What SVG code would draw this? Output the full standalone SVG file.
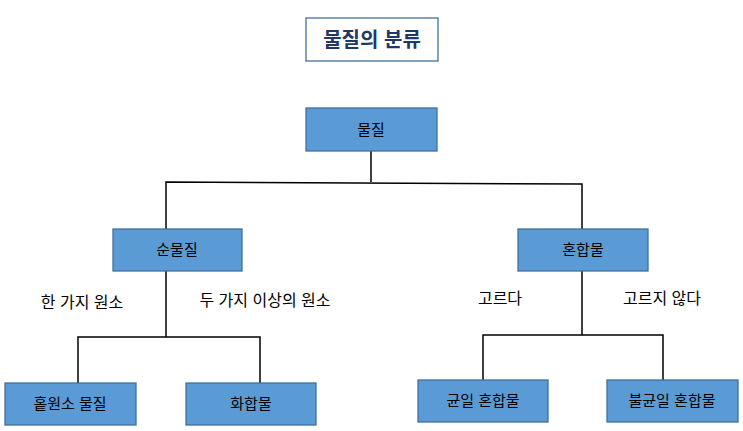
<svg xmlns="http://www.w3.org/2000/svg" width="743" height="431" viewBox="0 0 743 431">
<style>
.n{fill:#5b9bd5;stroke:#41719c;stroke-width:1.3}
.t{font-family:"Liberation Sans","Noto Sans CJK KR",sans-serif;font-size:15px;fill:#000;text-anchor:middle}
.l{font-family:"Liberation Sans","Noto Sans CJK KR",sans-serif;font-size:16px;fill:#000;text-anchor:middle}
.c{fill:none;stroke:#000;stroke-width:1.5}
</style>
<rect width="743" height="431" fill="#fff"/>
<g id="title"><rect x="306" y="18" width="132" height="43" fill="#fff" stroke="#41719c" stroke-width="1.3"/><text x="372" y="47" style="font-family:'Liberation Sans','Noto Sans CJK KR',sans-serif;font-size:20px;font-weight:bold;fill:#1f3864;text-anchor:middle">물질의 분류</text></g>
<g id="connectors">
<path class="c" d="M371,151V182M166,229V182L582,184V229M166,271V337M78,383V337H260V383M582,271V335M483,380V335H663V380"/>
</g>
<g id="n1"><rect class="n" x="306" y="108" width="131" height="43"/><text class="t" x="371" y="135">물질</text></g>
<g id="n2"><rect class="n" x="113" y="229" width="129" height="42"/><text class="t" x="177" y="255">순물질</text></g>
<g id="n3"><rect class="n" x="518" y="229" width="130" height="42"/><text class="t" x="583" y="255">혼합물</text></g>
<g id="n4"><rect class="n" x="5" y="383" width="131" height="42"/><text class="t" x="70" y="409">홑원소 물질</text></g>
<g id="n5"><rect class="n" x="186" y="383" width="130" height="42"/><text class="t" x="251" y="409">화합물</text></g>
<g id="n6"><rect class="n" x="418" y="380" width="130" height="42"/><text class="t" x="483" y="406">균일 혼합물</text></g>
<g id="n7"><rect class="n" x="607" y="380" width="131" height="42"/><text class="t" x="672" y="406">불균일 혼합물</text></g>
<g id="labels">
<text class="l" x="82" y="308">한 가지 원소</text>
<text class="l" x="265" y="306">두 가지 이상의 원소</text>
<text class="l" x="500" y="304">고르다</text>
<text class="l" x="662" y="304">고르지 않다</text>
</g>
</svg>
